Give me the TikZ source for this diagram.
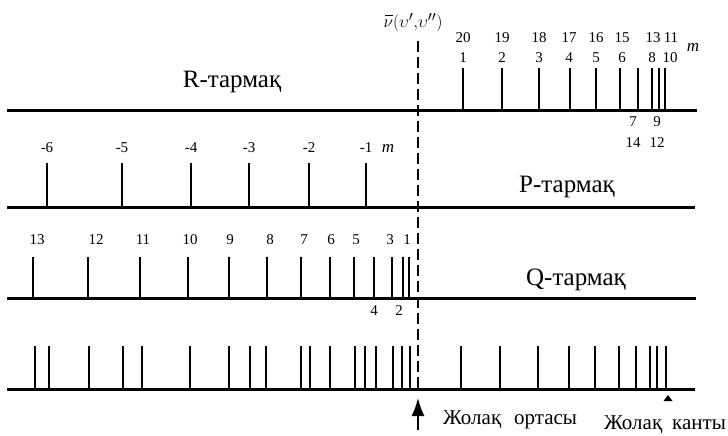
\documentclass[tikz,border=0pt]{standalone}
\usepackage{fontspec}
\setmainfont{Liberation Serif}
\usetikzlibrary{arrows.meta}
\begin{document}
\begin{tikzpicture}[x=1pt,y=-1pt,
  baseln/.style={line width=3pt},
  tickln/.style={line width=2.6pt},
  btickln/.style={line width=2.2pt},
  num/.style={font=\fontsize{15}{15}\selectfont, inner sep=0pt},
  mlab/.style={font=\fontsize{17}{17}\selectfont\itshape, inner sep=0pt},
  big/.style={font=\fontsize{25}{25}\selectfont, inner sep=0pt, anchor=base},
  foot/.style={font=\fontsize{21}{21}\selectfont, inner sep=0pt, anchor=base west}]
\useasboundingbox (0,0) rectangle (728,436);

% baselines
\draw[baseln] (7,110) coordinate (rL) -- (697,110) coordinate (rR);
\draw[baseln] (7,207) coordinate (pL) -- (695,207) coordinate (pR);
\draw[baseln] (7,298) coordinate (qL) -- (696,298) coordinate (qR);
\draw[baseln] (7,389) coordinate (sL) -- (695,389) coordinate (sR);

% dashed centre line
\draw[line width=2.6pt, dash pattern=on 11pt off 5pt] (418,41) coordinate (dT) -- (418,392) coordinate (dB);

% R branch
\foreach \x in {463,502,539,570,596,620,638,652,659,665}
  \draw[tickln] (\x,110) -- (\x,68);
\foreach \x/\a/\b in {463/20/1,502/19/2,539/18/3,569/17/4,596/16/5,622/15/6}{
  \node[num] at (\x,38) {\a};
  \node[num] at (\x,58) {\b};
}
\node[num] (r13) at (653,38) {13};
\node[num] (r11) at (671,38) {11};
\node[num] (r8) at (652,58) {8};
\node[num] (r10) at (670,58) {10};
\node[num] (r7) at (633,122) {7};
\node[num] (r14) at (633,143) {14};
\node[num] (r9) at (657,122) {9};
\node[num] (r12) at (657,143) {12};
\node[mlab] (rm) at (693,47) {m};
\node[big] (rname) at (232,87) {R-тармақ};

% P branch
\foreach \x/\l in {47/-6,122/-5,191/-4,249/-3,309/-2,366/-1}{
  \draw[tickln] (\x,207) -- (\x,163);
  \node[num] at (\x,148) {\l};
}
\node[mlab] (pm) at (388,148) {m};
\node[big] (pname) at (567,192) {P-тармақ};

% Q branch
\foreach \x in {33,88,140,188,229,267,301,330,354,374,392,403,409}
  \draw[tickln] (\x,298) -- (\x,257);
\foreach \x/\l in {37/13,96/12,143/11,190/10,230/9,270/8,304/7,331/6,356/5,390/3,407/1}
  \node[num] at (\x,240) {\l};
\node[num] (q4) at (374,311) {4};
\node[num] (q2) at (399,311) {2};
\node[big] (qname) at (576,285) {Q-тармақ};

% summary spectrum
\foreach \x in {35,49,89,123,142,190,229,250,266,301,310,330,355,365,376,393,402,410,
                461,500,538,569,595,619,636,650,657,666}
  \draw[btickln] (\x,389) -- (\x,346);

% top label
\node[inner sep=0pt, font=\fontsize{19}{19}\selectfont] (nu) at (413,23)
  {\rlap{\hspace{0.08em}\rule[0.62em]{0.42em}{0.06em}}$\nu(\upsilon'{,}\upsilon'')$};

% band centre arrow and band head marker
\coordinate (arrS) at (418,430);
\coordinate (arrE) at (418,398);
\draw[line width=1.8pt, -{Latex[length=18pt,width=13pt]}] (arrS) -- (arrE);
\fill (663.5,401) -- (672.5,401) -- (668,395) -- cycle;

\node[foot] (centre) at (443,424) {Жолақ\hspace{13pt}ортасы};
\node[foot] (head) at (604,429) {Жолақ\hspace{10pt}канты};
\end{tikzpicture}
\end{document}
